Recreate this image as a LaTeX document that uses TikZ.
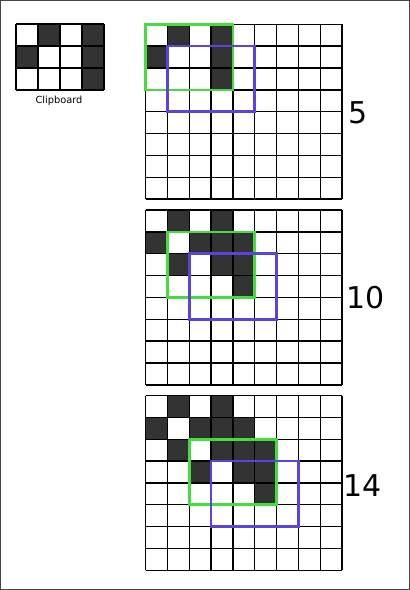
\documentclass[tikz,border=0pt]{standalone}
\usepackage{fontspec}
\setmainfont{DejaVu Sans}
\definecolor{darkcell}{HTML}{333333}
\definecolor{boxgreen}{HTML}{44DD3C}
\definecolor{boxblue}{HTML}{5A44E0}
\definecolor{framegray}{HTML}{444444}
\tikzset{
  cellfill/.style={fill=darkcell},
  gridline/.style={draw=black, line width=1.4pt},
  greenbox/.style={draw=boxgreen, line width=2.6pt},
  bluebox/.style={draw=boxblue, line width=2.6pt},
  numlabel/.style={font=\fontsize{30}{36}\selectfont, inner sep=0pt},
}
% #1 = x, #2 = y, #3 = cols, #4 = rows, #5 = dark cells list (c/r)
\newcommand{\cellgrid}[5]{%
  \begin{scope}[shift={(#1,#2)}, x=21.85pt, y=-21.85pt]
    \foreach \c/\r in {#5} {\fill[cellfill] (\c,\r) rectangle ++(1,1);}
    \foreach \i in {0,...,#3} {\draw[gridline] (\i,0) -- (\i,#4);}
    \foreach \j in {0,...,#4} {\draw[gridline] (0,\j) -- (#3,\j);}
  \end{scope}}
\newcommand{\boxpair}[4]{%
  \begin{scope}[shift={(#1,#2)}, x=21.85pt, y=-21.85pt]
    \draw[greenbox] (#3,#4) rectangle ++(4,3);
    \draw[bluebox] ({#3+1},{#4+1}) rectangle ++(4,3);
  \end{scope}}
\begin{document}
\begin{tikzpicture}[x=1pt,y=-1pt]
\useasboundingbox (0,0) rectangle (410,590);
\draw[framegray, line width=1pt] (0.5,0.5) rectangle (409.5,589.5);

% clipboard
\begin{scope}[shift={(16,24)}, x=22pt, y=-22pt]
  \foreach \c/\r in {1/0,3/0,0/1,3/1,3/2} {\fill[cellfill] (\c,\r) rectangle ++(1,1);}
  \foreach \i in {0,...,4} {\draw[gridline] (\i,0) -- (\i,3);}
  \foreach \j in {0,...,3} {\draw[gridline] (0,\j) -- (4,\j);}
\end{scope}
\node[font=\fontsize{9.8}{12}\selectfont, inner sep=0pt] (clip) at (59,101) {Clipboard};

% grid 1
\cellgrid{145.5}{24.3}{9}{8}{1/0,3/0,0/1,3/1,3/2}
\boxpair{145.5}{24.3}{0}{0}
\node[numlabel] (n5) at (358,113) {5};

% grid 2
\cellgrid{145.5}{210}{9}{8}{1/0,3/0,0/1,2/1,3/1,4/1,1/2,3/2,4/2,4/3}
\boxpair{145.5}{210}{1}{1}
\node[numlabel] (n10) at (365.5,298) {10};

% grid 3
\cellgrid{145.5}{395.5}{9}{8}{1/0,3/0,0/1,2/1,3/1,4/1,1/2,3/2,4/2,5/2,2/3,4/3,5/3,5/4}
\boxpair{145.5}{395.5}{2}{2}
\node[numlabel] (n14) at (363,486) {14};
\end{tikzpicture}
\end{document}
